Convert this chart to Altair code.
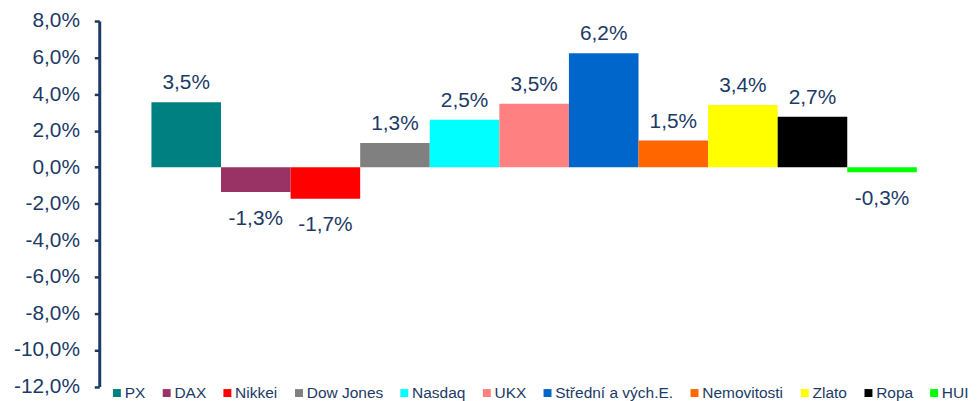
import altair as alt
import pandas as pd

categories = ["PX", "DAX", "Nikkei", "Dow Jones", "Nasdaq", "UKX",
              "Střední a vých.E.", "Nemovitosti", "Zlato", "Ropa", "HUI"]
values = [3.55, -1.35, -1.72, 1.32, 2.6, 3.47, 6.23, 1.46, 3.4, 2.76, -0.27]
labels = ["3,5%", "-1,3%", "-1,7%", "1,3%", "2,5%", "3,5%", "6,2%",
          "1,5%", "3,4%", "2,7%", "-0,3%"]
colors = ["#008080", "#993366", "#FF0000", "#808080", "#00FFFF", "#FF8080",
          "#0066CC", "#FF6600", "#FFFF00", "#000000", "#00FF00"]
y_ticks = [-12, -10, -8, -6, -4, -2, 0, 2, 4, 6, 8]

df = pd.DataFrame({"cat": categories, "value": values, "label": labels})

TXT = "#1B3A66"
FONT = "Liberation Sans"

xenc = alt.X("cat:N", sort=categories, axis=None,
             scale=alt.Scale(paddingInner=0, paddingOuter=0.75, round=False))

yenc = alt.Y("value:Q",
             scale=alt.Scale(domain=[-12, 8], nice=False, zero=False),
             axis=alt.Axis(values=y_ticks, title=None, grid=False,
                           labelOverlap=False, tickCount=11,
                           labelExpr="(datum.value < 0 ? '-' : '') + replace(format(abs(datum.value), '.1f'), '.', ',') + '%'",
                           labelFont=FONT, labelFontSize=21, labelColor=TXT,
                           labelPadding=15, tickSize=5, tickWidth=2.5,
                           tickColor=TXT, domainColor=TXT, domainWidth=3))

bars = alt.Chart(df).mark_bar().encode(
    x=xenc,
    y=yenc,
    color=alt.Color("cat:N",
                    scale=alt.Scale(domain=categories, range=colors),
                    legend=alt.Legend(title=None, orient="none", direction="horizontal",
                                      legendX=10, legendY=367, columns=11,
                                      symbolType="square", symbolSize=64,
                                      symbolStrokeWidth=0, labelFont=FONT,
                                      labelFontSize=15.6, labelColor=TXT,
                                      labelOffset=0, columnPadding=13.2,
                                      padding=0)),
)

pos = alt.Chart(df).transform_filter("datum.value >= 0").mark_text(
    font=FONT, fontSize=21, color=TXT, baseline="alphabetic", dy=-13
).encode(x=xenc, y=yenc, text="label:N")

neg = alt.Chart(df).transform_filter("datum.value < 0").mark_text(
    font=FONT, fontSize=21, color=TXT, baseline="alphabetic", dy=33
).encode(x=xenc, y=yenc, text="label:N")

chart = alt.layer(bars, pos, neg).properties(
    width=877, height=368.5,
    padding={"left": 92, "top": 11.5, "right": 3, "bottom": 13},
    autosize="none",
).configure_view(stroke=None)

chart.save("out.html", embed_options={"renderer": "svg", "actions": False})
